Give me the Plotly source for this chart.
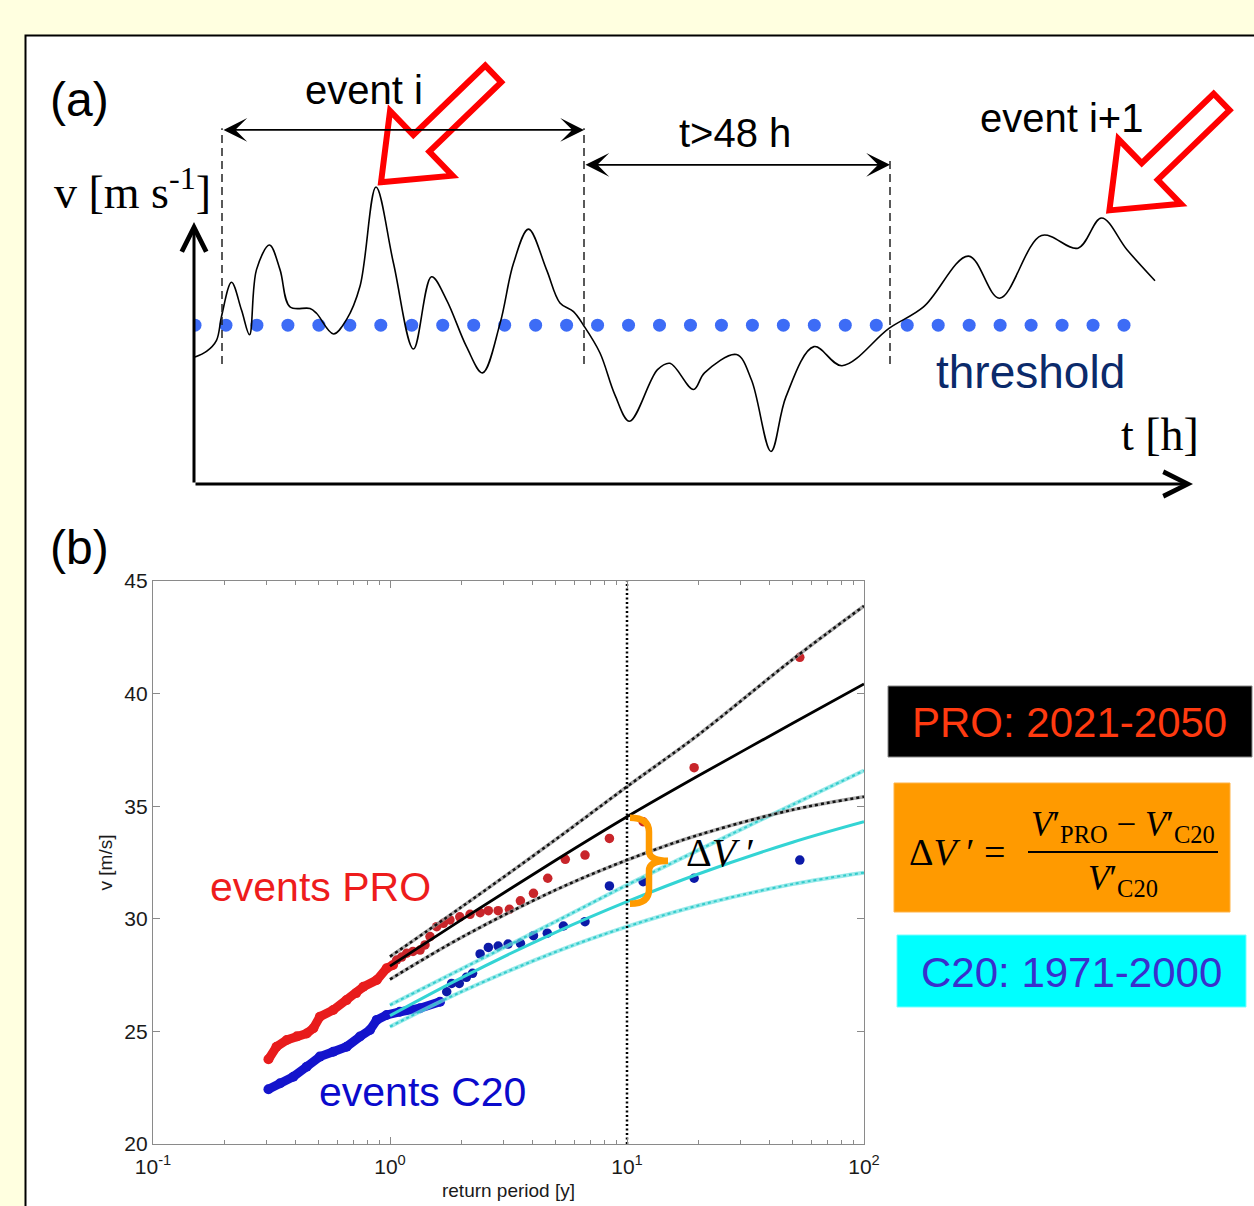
import math
import plotly.graph_objects as go

W, H = 1254, 1206

# ---------------- Panel (a): schematic wind time series ----------------
a_t = [0.2, 2.5, 4.5, 5.5, 7.5, 9.5, 11.1, 12.5, 15.1, 17.2, 19.2, 23.2, 24.5, 27.9,
       30.5, 33.2, 36.4, 39.9, 43.9, 47.5, 50.5, 54.5, 57.7, 61.2, 63.9, 66.9, 70.5,
       73.2, 75.9, 78.0, 81.2, 84.2, 87.1, 92.7, 95.2, 99.9, 102.1, 108.5, 111.5,
       115.4, 118.4, 124.0, 129.6, 139.0, 145.9, 154.9, 161.1, 169.5, 176.8, 181.5,
       186.6, 192.2]
a_v = [16.0, 16.7, 18.1, 21.1, 25.4, 21.9, 18.8, 27.0, 30.1, 27.0, 22.3, 22.1, 21.5, 18.9,
       20.7, 24.9, 37.4, 27.8, 17.0, 26.1, 23.2, 17.3, 14.0, 20.2, 27.8, 32.1, 27.0,
       22.8, 21.7, 19.9, 16.5, 11.2, 7.9, 14.4, 15.2, 11.9, 14.0, 16.3, 13.1,
       4.1, 11.0, 17.3, 14.9, 19.6, 22.3, 28.7, 23.4, 31.3, 29.7, 33.5,
       29.5, 25.6]
threshold_v = 20.0
threshold_t0, threshold_t1, threshold_ndots = 0.2, 186.0, 31
event_bounds_t = [5.6, 78.0, 139.2]
peak_event_i = (36.4, 37.4)
peak_event_i1 = (181.5, 33.5)

# ---------------- Panel (b): return periods ----------------
pro_dense_T = [0.307, 0.332, 0.367, 0.405, 0.445, 0.475, 0.506, 0.576, 0.656, 0.72, 0.772, 0.879, 0.968, 1.03]
pro_dense_v = [23.76, 24.32, 24.62, 24.78, 24.91, 25.14, 25.65, 25.95, 26.39, 26.7, 26.98, 27.28, 27.80, 27.95]
pro_T = [1.067, 1.12, 1.176, 1.25, 1.339, 1.405, 1.475, 1.574, 1.68, 1.79, 1.97, 2.177,
         2.40, 2.60, 2.86, 3.19, 3.55, 4.03, 4.63, 5.49, 6.65, 8.43, 11.7, 19.2, 53.6]
pro_v = [28.17, 28.3, 28.47, 28.55, 28.61, 28.84, 29.21, 29.65, 29.80, 29.95, 30.09, 30.20,
         30.27, 30.36, 30.36, 30.42, 30.80, 31.13, 31.80, 32.64, 32.83, 33.57, 34.31, 36.71, 41.61]
c20_dense_T = [0.307, 0.344, 0.391, 0.445, 0.506, 0.576, 0.656, 0.747, 0.823, 0.879, 0.968, 1.10, 1.339, 1.626]
c20_dense_v = [22.43, 22.70, 22.99, 23.43, 23.88, 24.10, 24.32, 24.77, 25.06, 25.51, 25.73, 25.87, 26.03, 26.32]
c20_T = [1.735, 1.82, 1.96, 2.10, 2.23, 2.40, 2.60, 2.86, 3.15, 3.55, 4.03, 4.61, 5.39,
         6.65, 8.43, 11.7, 19.2, 53.6]
c20_v = [26.76, 27.13, 27.13, 27.40, 27.58, 28.44, 28.73, 28.79, 28.88, 28.91, 29.25, 29.36, 29.68,
         29.87, 31.46, 31.65, 31.80, 32.61]
fit_T = [1, 2, 5, 10, 20, 50, 100]
pro_mid = [27.9, 29.95, 32.6, 34.53, 36.35, 38.68, 40.43]
pro_hi = [28.32, 30.52, 33.52, 35.87, 38.17, 41.52, 43.89]
pro_lo = [27.31, 29.17, 31.28, 32.61, 33.72, 34.84, 35.42]
c20_mid = [25.7, 27.38, 29.40, 30.76, 31.99, 33.40, 34.31]
c20_hi = [26.17, 27.77, 29.88, 31.5, 33.05, 35.07, 36.58]
c20_lo = [25.21, 26.76, 28.53, 29.65, 30.59, 31.54, 32.05]
ref_T = 10
y_ticks = [20, 25, 30, 35, 40, 45]
x_ticks = [0.1, 1, 10, 100]
x_ticktext = ["10<sup>-1</sup>", "10<sup>0</sup>", "10<sup>1</sup>", "10<sup>2</sup>"]

# ---------------- layout geometry (pixels) ----------------
A_X0, A_X1, A_TR = 194, 1194, (0, 200)
A_Y0, A_VR = 484, (0, 47)
A_PXV = 7.94
A_Y1 = A_Y0 - A_PXV * A_VR[1]
B_X0, B_X1 = 153, 864
B_Y0, B_Y1 = 1144, 581
B_VR = (20, 45)


def a_px(t, v):
    return (A_X0 + (t - A_TR[0]) * (A_X1 - A_X0) / (A_TR[1] - A_TR[0]), A_Y0 - v * A_PXV)


def b_px(T, v):
    return (B_X0 + (math.log10(T) + 1) * (B_X1 - B_X0) / 3.0,
            B_Y0 - (v - B_VR[0]) * (B_Y0 - B_Y1) / (B_VR[1] - B_VR[0]))


def pp(x, y):
    return x / W, 1 - y / H


def path_from(points, close=True):
    s = ""
    for i, (x, y) in enumerate(points):
        px, py = pp(x, y)
        s += ("M" if i == 0 else "L") + f"{px:.5f},{py:.5f} "
    return s + ("Z" if close else "")


def hollow_arrow(tip, ang_deg, total=156, head=56, head_half=45, shaft_half=11.5):
    ux, uy = math.cos(math.radians(ang_deg)), -math.sin(math.radians(ang_deg))
    nx, ny = -uy, ux
    tx, ty = tip
    def P(a, b):
        return (tx + ux * a + nx * b, ty + uy * a + ny * b)
    pts = [P(0, 0), P(head, head_half), P(head, shaft_half), P(total, shaft_half),
           P(total, -shaft_half), P(head, -shaft_half), P(head, -head_half)]
    return path_from(pts)


fig = go.Figure()

SANS = "Liberation Sans, Arial, sans-serif"
SERIF = "Liberation Serif, Times New Roman, serif"

# ---- panel (a) traces ----
thr_step = (threshold_t1 - threshold_t0) / (threshold_ndots - 1)
thr_t = [threshold_t0 + i * thr_step for i in range(threshold_ndots)]
fig.add_trace(go.Scatter(x=thr_t, y=[threshold_v] * len(thr_t), mode="markers",
                         marker=dict(size=13, color="#3d6cf6"), xaxis="x2", yaxis="y2",
                         hoverinfo="skip"))
fig.add_trace(go.Scatter(x=a_t, y=a_v, mode="lines", line=dict(color="black", width=1.6, shape="spline", smoothing=1.0),
                         xaxis="x2", yaxis="y2", hoverinfo="skip", cliponaxis=False))

# ---- panel (b) traces ----
fig.add_trace(go.Scatter(x=pro_dense_T, y=pro_dense_v, mode="lines+markers",
                         line=dict(color="#e81c1c", width=9), marker=dict(size=10, color="#e81c1c")))
fig.add_trace(go.Scatter(x=pro_T, y=pro_v, mode="markers", marker=dict(size=9.5, color="#c8252a")))
fig.add_trace(go.Scatter(x=c20_dense_T, y=c20_dense_v, mode="lines+markers",
                         line=dict(color="#1414cc", width=9), marker=dict(size=10, color="#1414cc")))
fig.add_trace(go.Scatter(x=c20_T, y=c20_v, mode="markers", marker=dict(size=9.5, color="#0c1aa8")))

for ys in (c20_hi, c20_lo):
    fig.add_trace(go.Scatter(x=fit_T, y=ys, mode="lines",
                             line=dict(color="rgba(110,225,225,0.7)", width=4, shape="spline")))
    fig.add_trace(go.Scatter(x=fit_T, y=ys, mode="lines",
                             line=dict(color="rgba(40,200,200,0.9)", width=2, dash="dot", shape="spline")))
fig.add_trace(go.Scatter(x=fit_T, y=c20_mid, mode="lines", line=dict(color="#33d4d4", width=3, shape="spline")))
for ys in (pro_hi, pro_lo):
    fig.add_trace(go.Scatter(x=fit_T, y=ys, mode="lines",
                             line=dict(color="rgba(150,150,150,0.8)", width=3.5, shape="spline")))
    fig.add_trace(go.Scatter(x=fit_T, y=ys, mode="lines",
                             line=dict(color="#111", width=2.5, dash="dot", shape="spline")))
fig.add_trace(go.Scatter(x=fit_T, y=pro_mid, mode="lines", line=dict(color="black", width=2.8, shape="spline")))
fig.add_trace(go.Scatter(x=[ref_T, ref_T], y=[B_VR[0], B_VR[1]], mode="lines",
                         line=dict(color="black", width=2.5, dash="2px,2.5px")))

# ---------------- shapes ----------------
shapes = []
shapes.append(dict(type="rect", xref="paper", yref="paper", x0=25.5 / W, x1=1.02, y0=-0.02, y1=1 - 35.5 / H,
                   line=dict(color="black", width=2), fillcolor="white", layer="below"))
bound_tops = [44.8, 44.8, 40.8]
for tb, top in zip(event_bounds_t, bound_tops):
    shapes.append(dict(type="line", xref="x2", yref="y2", x0=tb, x1=tb, y0=15.1, y1=top,
                       line=dict(color="#222", width=1.5, dash="8px,5px")))
for pk, off in ((peak_event_i, 7), (peak_event_i1, 11)):
    px, py = a_px(*pk)
    ang = 44
    tip = (px + off * math.cos(math.radians(ang)), py - off * math.sin(math.radians(ang)))
    shapes.append(dict(type="path", xref="paper", yref="paper", path=hollow_arrow(tip, ang),
                       line=dict(color="#ff0000", width=6), fillcolor="rgba(0,0,0,0)"))
bx, btop = b_px(ref_T, pro_mid[fit_T.index(ref_T)])
_, bbot = b_px(ref_T, c20_mid[fit_T.index(ref_T)])
bx += 3
btop += 1
bbot += 2
bmid = (btop + bbot) / 2
wa, wt = 19, 38
def P(x, y):
    a, b = pp(x, y)
    return f"{a:.5f},{b:.5f}"
brace = (f"M{P(bx, btop)} Q{P(bx + wa, btop)} {P(bx + wa, btop + 14)} L{P(bx + wa, bmid - 10)} "
         f"Q{P(bx + wa, bmid)} {P(bx + wt, bmid)} Q{P(bx + wa, bmid)} {P(bx + wa, bmid + 10)} "
         f"L{P(bx + wa, bbot - 14)} Q{P(bx + wa, bbot)} {P(bx, bbot)}")
shapes.append(dict(type="path", xref="paper", yref="paper", path=brace,
                   line=dict(color="#ff9a00", width=6.5)))
def box(x0, y0, x1, y1, fill, lc):
    a0, b0 = pp(x0, y1)
    a1, b1 = pp(x1, y0)
    return dict(type="rect", xref="paper", yref="paper", x0=a0, x1=a1, y0=b0, y1=b1,
                fillcolor=fill, line=dict(color=lc, width=1))
shapes.append(box(888, 686, 1252, 757, "black", "#888"))
shapes.append(box(894, 783, 1230, 912, "#ff9a00", "#ffb347"))
shapes.append(box(897, 935, 1246, 1007, "#00ffff", "#7ff"))
f0 = pp(1028, 852)
f1 = pp(1218, 852)
shapes.append(dict(type="line", xref="paper", yref="paper", x0=f0[0], x1=f1[0], y0=f0[1], y1=f1[1],
                   line=dict(color="black", width=2)))

# ---------------- annotations ----------------
ann = []
def txt(text, x, y, size, color="black", family=SANS, xanchor="center"):
    a, b = pp(x, y)
    ann.append(dict(text=text, x=a, y=b, xref="paper", yref="paper", showarrow=False,
                    xanchor=xanchor, yanchor="middle", font=dict(size=size, color=color, family=family)))

txt("(a)", 79, 99, 48)
txt("(b)", 79, 548, 48)
txt("event i", 364, 90, 40)
txt("t&gt;48 h", 735, 133, 40)
txt("event i+1", 1061, 118, 40)
txt("v [m s<sup>-1</sup>]", 132, 189, 46, family=SERIF)
txt("threshold", 1030, 372, 46, color="#0b2a6b")
txt("t [h]", 1160, 435, 46, family=SERIF)
txt("events PRO", 320, 887, 41, color="#ee1c1c")
txt("events C20", 422, 1092, 41, color="#0a0acc")
txt("Δ<i>V</i> ′", 720, 852, 40, family=SERIF)
txt("PRO: 2021-2050", 1069, 722, 42, color="#ff3a10")
txt("C20: 1971-2000", 1071, 972, 42, color="#3a2fcc")
txt("Δ<i>V</i> ′ =", 957, 852, 38, family=SERIF)
txt("<i>V</i>′<sub>PRO</sub> − <i>V</i>′<sub>C20</sub>", 1123, 826, 35, family=SERIF)
txt("<i>V</i>′<sub>C20</sub>", 1123, 880, 35, family=SERIF)

ev_y = [44.6, 40.2]
for (t0, t1), yv in zip(((event_bounds_t[0], event_bounds_t[1]), (event_bounds_t[1], event_bounds_t[2])), ev_y):
    ann.append(dict(x=t1, y=yv, ax=t0, ay=yv, xref="x2", yref="y2", axref="x2", ayref="y2",
                    text="", showarrow=True, arrowside="end+start", arrowhead=3, startarrowhead=3,
                    arrowsize=2.2, startarrowsize=2.2, arrowwidth=1.8, arrowcolor="black", standoff=0))
ann.append(dict(x=A_TR[0], y=33.0, ax=A_TR[0], ay=0, xref="x2", yref="y2", axref="x2", ayref="y2",
                text="", showarrow=True, arrowhead=5, arrowsize=1.6, arrowwidth=3, arrowcolor="black"))
ann.append(dict(x=199.8, y=0, ax=A_TR[0], ay=0, xref="x2", yref="y2", axref="x2", ayref="y2",
                text="", showarrow=True, arrowhead=5, arrowsize=1.6, arrowwidth=3, arrowcolor="black"))

minor_vals = [m * 10 ** e for e in (-1, 0, 1) for m in range(2, 10)]
AXC = "#8a8a8a"
fig.update_layout(
    width=W, height=H, margin=dict(l=0, r=0, t=0, b=0),
    paper_bgcolor="#FFFFE0", plot_bgcolor="rgba(0,0,0,0)", showlegend=False,
    shapes=shapes, annotations=ann,
    xaxis=dict(type="log", range=[-1, 2], domain=[B_X0 / W, B_X1 / W], showline=True, linecolor=AXC,
               linewidth=1.2, mirror="ticks", ticks="inside", ticklen=7, tickcolor=AXC, tickwidth=1,
               tickvals=x_ticks, ticktext=x_ticktext, tickfont=dict(size=21, color="#1a1a1a", family=SANS),
               ticklabelstandoff=4,
               minor=dict(ticks="inside", ticklen=4, tickvals=minor_vals, tickcolor=AXC, showgrid=False),
               showgrid=False, zeroline=False, automargin=False,
               title=dict(text="return period [y]", font=dict(size=19, color="#1a1a1a", family=SANS), standoff=6)),
    yaxis=dict(range=list(B_VR), domain=[(H - B_Y0) / H, (H - B_Y1) / H], showline=True, linecolor=AXC,
               linewidth=1.2, mirror="ticks", ticks="inside", ticklen=7, tickcolor=AXC,
               tickvals=y_ticks, tickfont=dict(size=21, color="#1a1a1a", family=SANS),
               showgrid=False, zeroline=False, automargin=False,
               title=dict(text="v [m/s]", font=dict(size=19, color="#1a1a1a", family=SANS), standoff=6)),
    xaxis2=dict(range=list(A_TR), domain=[A_X0 / W, A_X1 / W], visible=False, anchor="y2"),
    yaxis2=dict(range=list(A_VR), domain=[(H - A_Y0) / H, (H - A_Y1) / H], visible=False, anchor="x2"),
)

fig.write_html("out.html")
